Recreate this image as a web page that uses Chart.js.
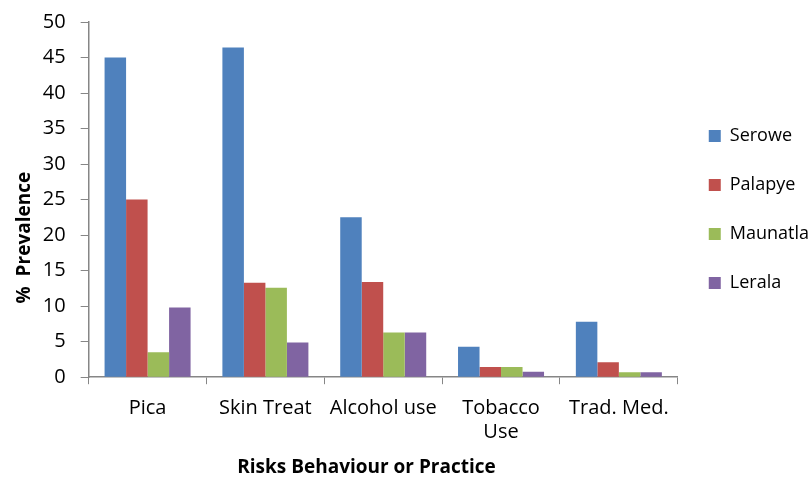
<!DOCTYPE html>
<html>
<head>
<meta charset="utf-8">
<script src="https://cdn.jsdelivr.net/npm/chart.js@4"></script>
<style>
  html, body { margin: 0; padding: 0; background: #fff; }
  #wrap { width: 809px; height: 479px; position: relative; }
</style>
</head>
<body>
<div id="wrap"><canvas id="chart"></canvas></div>
<script>
// Datos
const categories = ["Pica", "Skin Treat", "Alcohol use", ["Tobacco", "Use"], "Trad. Med."];
const serowe   = [45, 46.4, 22.5, 4.3, 7.8];
const palapye  = [25, 13.3, 13.4, 1.45, 2.1];
const maunatla = [3.5, 12.6, 6.3, 1.45, 0.7];
const lerala   = [9.8, 4.9, 6.3, 0.75, 0.7];
const yTicks   = [0, 5, 10, 15, 20, 25, 30, 35, 40, 45, 50];

Chart.defaults.font.family = "'Open Sans', sans-serif";
Chart.defaults.color = '#000';

const axisGrey = '#868686';

function ds(label, data, color) {
    return {
        label: label,
        data: data,
        backgroundColor: color,
        borderWidth: 0,
        barPercentage: 1.0,
        categoryPercentage: 0.73
    };
}

// espacios al final para descentrar los títulos como en el original
const pad = n => '\u2002'.repeat(n);

new Chart(document.getElementById('chart'), {
    type: 'bar',
    data: {
        labels: categories,
        datasets: [
            ds('Serowe', serowe, '#4F81BD'),
            ds('Palapye', palapye, '#C0504D'),
            ds('Maunatla', maunatla, '#9BBB59'),
            ds('Lerala', lerala, '#8064A2')
        ]
    },
    options: {
        responsive: true,
        maintainAspectRatio: false,
        animation: false,
        layout: { padding: { top: 0, right: -10, bottom: 0, left: 13 } },
        plugins: {
            legend: {
                position: 'right',
                fullSize: false,
                // título vacío solo para bajar un poco las entradas
                title: { display: true, text: ' ', font: { size: 10 }, padding: 4 },
                labels: {
                    boxWidth: 12,
                    boxHeight: 12,
                    padding: 31,
                    font: { size: 18 },
                    color: '#000'
                }
            },
            tooltip: { enabled: false }
        },
        scales: {
            x: {
                grid: { drawOnChartArea: false, drawTicks: true, tickLength: 7, color: axisGrey, offset: true },
                border: { color: axisGrey, width: 1.5 },
                ticks: { font: { size: 20 }, color: '#000', padding: 12, maxRotation: 0 },
                title: { display: true, text: 'Risks Behaviour or Practice' + pad(3) + ' ', font: { size: 19, weight: 'bold' }, color: '#000', padding: { top: 0, bottom: 0 } }
            },
            y: {
                min: 0,
                max: 50,
                afterBuildTicks: axis => { axis.ticks = yTicks.map(v => ({ value: v })); },
                grid: { drawOnChartArea: false, drawTicks: true, tickLength: 8, color: axisGrey },
                border: { color: axisGrey, width: 1.5 },
                // lineHeight bajo para que el área del gráfico empiece más arriba
                ticks: { font: { size: 20, lineHeight: 0.7 }, color: '#000', padding: 15 },
                title: { display: true, text: '%  Prevalence' + pad(8), font: { size: 19, weight: 'bold' }, color: '#000', padding: { top: 0, bottom: -8 } }
            }
        }
    }
});
</script>
</body>
</html>
